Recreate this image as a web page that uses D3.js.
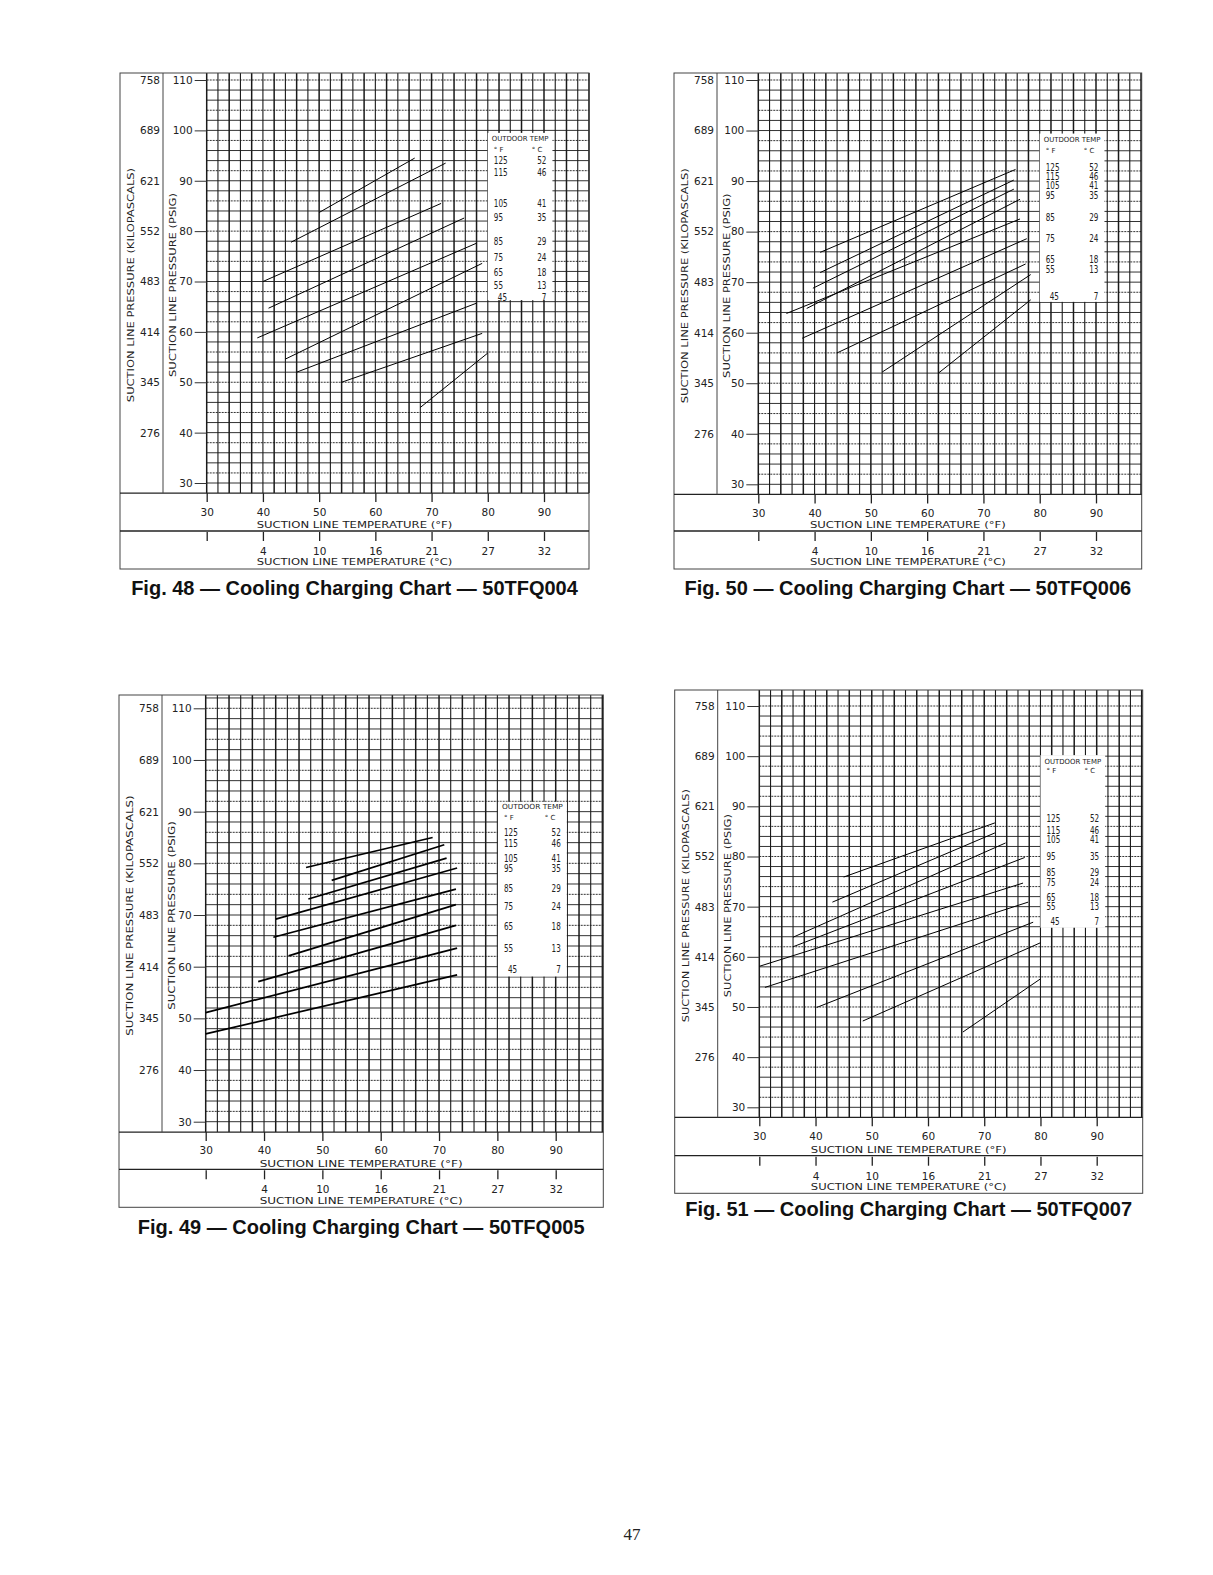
<!DOCTYPE html>
<html lang="en">
<head>
<meta charset="UTF-8">
<title>Cooling Charging Charts</title>
<style>
    html, body { margin: 0; padding: 0; background: #fff; }
    svg { display: block; }
    .plot-font { font-family: "DejaVu Sans", "Liberation Sans", sans-serif; fill: #222; }
</style>
</head>
<body>
<svg id="svg" width="1213" height="1575"></svg>

<script src="https://d3js.org/d3.v7.min.js"></script>
<script>
// ---- data ----
const tempTicksF = [30, 40, 50, 60, 70, 80, 90]
const tempLabelsC = ['', '4', '10', '16', '21', '27', '32']
const pressureTicksPsig = [30, 40, 50, 60, 70, 80, 90, 100, 110]
const pressureLabelsKpa = ['', '276', '345', '414', '483', '552', '621', '689', '758']
const outdoorTempF = [125, 115, 105, 95, 85, 75, 65, 55, 45]
const outdoorTempC = [52, 46, 41, 35, 29, 24, 18, 13, 7]

// one line per outdoor temp: [start °F, start psig, end °F, end psig]
const fig48Lines = [
    [50, 83.7, 67, 94.5],
    [45, 77.8, 72.5, 93.5],
    [40, 70, 71.7, 85.5],
    [41, 64.7, 75.8, 82.6],
    [39, 58.8, 78, 77.6],
    [44, 54.6, 79, 73.6],
    [46, 52, 78, 65.7],
    [54, 50, 79, 59.7],
    [68, 45, 80, 55.8]
]
const fig49Lines = [
    [47.2, 79.2, 68.9, 85],
    [51.6, 76.7, 70.9, 83.6],
    [47.6, 73.1, 71.3, 81],
    [42, 69.2, 73.1, 79.1],
    [41.6, 65.7, 72.9, 75],
    [44.2, 62.1, 72.9, 72],
    [39, 57.1, 72.9, 68],
    [30, 51.1, 73.1, 63.6],
    [30, 47, 73.1, 58.4]
]
const fig50Lines = [
    [41, 75.9, 75.7, 92.3],
    [41, 71.9, 75.4, 90.2],
    [39.7, 68.8, 75.4, 88.4],
    [38.6, 64.8, 76.5, 86.4],
    [35, 63.8, 76.5, 82.5],
    [37.8, 58.9, 77.7, 78.6],
    [44, 56, 77.5, 73.6],
    [52, 52.2, 78.4, 71.5],
    [62, 52, 78.4, 66.5]
]
const fig51Lines = [
    [45, 75.9, 71.9, 86.7],
    [43, 70.9, 71.9, 84.7],
    [36, 63.9, 73.8, 82.7],
    [36, 62, 77.2, 79.8],
    [30, 58.1, 76.9, 74.7],
    [31, 53.9, 77.8, 70.9],
    [40.2, 49.9, 78.7, 66.9],
    [48.4, 47.2, 80, 62.8],
    [66.2, 45, 80, 55.6]
]

// ---- page layout (pixels) ----
const charts = [
    {
        fig: 48, model: '50TFQ004', lines: fig48Lines, lineWidth: 1,
        left: 120, top: 73, right: 589, fBox: 531, bottom: 569, captionY: 595,
        x30: 206.7, x90: 544, y30: 483, y110: 80,
        legend: { x0: 80, x1: 91.5, y0: 66.3, y1: 99.5, head: [98.4, 96.1],
                  rows: [94.1, 91.7, 85.6, 82.7, 77.9, 74.7, 71.9, 69.3, 66.9] }
    },
    {
        fig: 50, model: '50TFQ006', lines: fig50Lines, lineWidth: 1,
        left: 674, top: 73, right: 1141.7, fBox: 531, bottom: 569, captionY: 595,
        x30: 758.3, x90: 1096, y30: 484.3, y110: 80,
        legend: { x0: 80, x1: 91.5, y0: 66.1, y1: 99.4, head: [98.3, 96.1],
                  rows: [92.8, 91.0, 89.2, 87.2, 82.9, 78.7, 74.6, 72.5, 67.1] }
    },
    {
        fig: 49, model: '50TFQ005', lines: fig49Lines, lineWidth: 1.7,
        left: 119, top: 695, right: 603.3, fBox: 1169.3, bottom: 1207.3, captionY: 1234,
        x30: 205.7, x90: 555.7, y30: 1121.7, y110: 708.3,
        legend: { x0: 80.1, x1: 91.9, y0: 58.1, y1: 91.9, head: [91.0, 88.8],
                  rows: [85.9, 83.8, 81.0, 79.1, 75.2, 71.6, 67.8, 63.6, 59.5] }
    },
    {
        fig: 51, model: '50TFQ007', lines: fig51Lines, lineWidth: 1,
        left: 674.7, top: 690, right: 1142.7, fBox: 1155.7, bottom: 1193.3, captionY: 1216,
        x30: 759.3, x90: 1096.7, y30: 1107.3, y110: 706,
        legend: { x0: 80, x1: 91.5, y0: 65.8, y1: 100.2, head: [98.9, 97.1],
                  rows: [87.6, 85.2, 83.4, 80.1, 76.9, 74.9, 71.8, 70.1, 67.1] }
    }
]

const svg = d3.select('#svg')
svg.append('rect').attr('width', 1213).attr('height', 1575).attr('fill', '#fff')

charts.forEach(c => drawChart(c))

function drawChart(c) {
    const x = d3.scaleLinear().domain([30, 90]).range([c.x30, c.x90])
    const y = d3.scaleLinear().domain([30, 110]).range([c.y30, c.y110])
    const xMax = x.invert(c.right)
    const yMax = y.invert(c.top)
    const plotBottom = y(28)
    const divider = c.left + 43
    const g = svg.append('g').attr('class', 'plot-font')

    // grid
    const grid = g.append('g')
    grid.selectAll('line.h')
        .data(d3.range(30, yMax, 2))
        .enter()
        .append('line')
        .attr('x1', x(30)).attr('x2', c.right)
        .attr('y1', d => y(d)).attr('y2', d => y(d))
        .attr('stroke', '#333')
        .attr('stroke-width', 1)
        .attr('stroke-dasharray', (d, i) => i % 3 === 1 ? '2 1' : null)
    grid.selectAll('line.v')
        .data(d3.range(30, xMax + 0.01, 2))
        .enter()
        .append('line')
        .attr('x1', d => x(d)).attr('x2', d => x(d))
        .attr('y1', c.top).attr('y2', plotBottom)
        .attr('stroke', '#1a1a1a')
        .attr('stroke-width', (d, i) => i % 2 === 0 ? 1.5 : 1.1)

    // frame and boxes
    const frame = g.append('g').attr('fill', 'none').attr('stroke', '#444').attr('stroke-width', 1)
    frame.append('rect')
        .attr('x', c.left).attr('y', c.top)
        .attr('width', c.right - c.left).attr('height', c.bottom - c.top)
    frame.append('line').attr('x1', c.left).attr('x2', c.right).attr('y1', plotBottom).attr('y2', plotBottom)
        .attr('stroke', '#222').attr('stroke-width', 1.3)
    frame.append('line').attr('x1', c.left).attr('x2', c.right).attr('y1', c.fBox).attr('y2', c.fBox)
        .attr('stroke', '#222').attr('stroke-width', 1.3)
    frame.append('line').attr('x1', divider).attr('x2', divider).attr('y1', c.top).attr('y2', plotBottom)

    // legend box
    const L = c.legend
    g.append('rect')
        .attr('x', x(L.x0)).attr('y', y(L.y1))
        .attr('width', x(L.x1) - x(L.x0)).attr('height', y(L.y0) - y(L.y1))
        .attr('fill', '#fff')
    const lx = x(L.x0), lw = x(L.x1) - x(L.x0)
    g.append('text')
        .attr('x', lx + 4).attr('y', y(L.head[0])).attr('dy', '0.35em')
        .attr('font-size', 7).attr('textLength', lw - 8).attr('lengthAdjust', 'spacingAndGlyphs')
        .text('OUTDOOR TEMP')
    g.append('text')
        .attr('x', lx + 6).attr('y', y(L.head[1])).attr('dy', '0.35em')
        .attr('font-size', 7).text('° F')
    g.append('text')
        .attr('x', lx + lw * 0.68).attr('y', y(L.head[1])).attr('dy', '0.35em')
        .attr('font-size', 7).text('° C')
    g.selectAll('text.lf')
        .data(outdoorTempF)
        .enter()
        .append('text')
        .attr('x', (d, i) => lx + (i === 8 ? 10 : 6))
        .attr('y', (d, i) => y(L.rows[i])).attr('dy', '0.36em')
        .attr('font-size', 10)
        .attr('textLength', d => String(d).length * 4.6).attr('lengthAdjust', 'spacingAndGlyphs')
        .text(d => d)
    g.selectAll('text.lc')
        .data(outdoorTempC)
        .enter()
        .append('text')
        .attr('x', d => lx + lw - 6 - String(d).length * 4.6)
        .attr('y', (d, i) => y(L.rows[i])).attr('dy', '0.36em')
        .attr('font-size', 10)
        .attr('textLength', d => String(d).length * 4.6).attr('lengthAdjust', 'spacingAndGlyphs')
        .text(d => d)

    // charging lines
    g.append('g')
        .selectAll('line')
        .data(c.lines)
        .enter()
        .append('line')
        .attr('x1', d => x(d[0])).attr('y1', d => y(d[1]))
        .attr('x2', d => x(d[2])).attr('y2', d => y(d[3]))
        .attr('stroke', '#000')
        .attr('stroke-width', c.lineWidth)

    // psig axis
    const psigAxis = d3.axisLeft(y).tickValues(pressureTicksPsig).tickSize(12).tickPadding(2)
    const pa = g.append('g').attr('transform', `translate(${x(30)},0)`).call(psigAxis)
    pa.select('.domain').remove()
    pa.selectAll('line').attr('stroke', '#333')
    pa.selectAll('text').attr('font-size', 10.5).attr('fill', '#222')
        .attr('font-family', '"DejaVu Sans", sans-serif')

    // kPa axis
    const kpaAxis = d3.axisLeft(y).tickValues(pressureTicksPsig).tickSize(0).tickPadding(3)
        .tickFormat((d, i) => pressureLabelsKpa[i])
    const ka = g.append('g').attr('transform', `translate(${divider},0)`).call(kpaAxis)
    ka.select('.domain').remove()
    ka.selectAll('text').attr('font-size', 10.5).attr('fill', '#222')
        .attr('font-family', '"DejaVu Sans", sans-serif')

    // °F axis
    const fBoxH = c.fBox - plotBottom
    const fAxis = d3.axisBottom(x).tickValues(tempTicksF).tickSize(9).tickPadding(fBoxH * 0.16)
    const fa = g.append('g').attr('transform', `translate(0,${plotBottom})`).call(fAxis)
    fa.select('.domain').remove()
    fa.selectAll('line').attr('stroke', '#222').attr('stroke-width', 1.3)
    fa.selectAll('text').attr('font-size', 10.5).attr('fill', '#222')
        .attr('font-family', '"DejaVu Sans", sans-serif')

    // °C axis (ticks sit on the °F positions)
    const cAxis = d3.axisBottom(x).tickValues(tempTicksF).tickSize(9).tickPadding(fBoxH * 0.18)
        .tickFormat((d, i) => tempLabelsC[i])
    const ca = g.append('g').attr('transform', `translate(0,${c.fBox + 1})`).call(cAxis)
    ca.select('.domain').remove()
    ca.selectAll('line').attr('stroke', '#222').attr('stroke-width', 1.3)
    ca.selectAll('text').attr('font-size', 10.5).attr('fill', '#222')
        .attr('font-family', '"DejaVu Sans", sans-serif')

    // axis titles
    const midX = (c.left + c.right) / 2
    const sx = (c.x90 - c.x30) / 60
    g.append('text')
        .attr('x', midX).attr('y', plotBottom + fBoxH * 0.93)
        .attr('text-anchor', 'middle').attr('font-size', 9)
        .attr('textLength', sx * 34.8).attr('lengthAdjust', 'spacingAndGlyphs')
        .text('SUCTION LINE TEMPERATURE (°F)')
    g.append('text')
        .attr('x', midX).attr('y', c.fBox + (c.bottom - c.fBox) * 0.9)
        .attr('text-anchor', 'middle').attr('font-size', 9)
        .attr('textLength', sx * 34.8).attr('lengthAdjust', 'spacingAndGlyphs')
        .text('SUCTION LINE TEMPERATURE (°C)')

    const midY = (c.top + plotBottom) / 2 + 2
    const sy = (c.y30 - c.y110) / 80
    g.append('text')
        .attr('transform', `translate(${c.left + 14},${midY}) rotate(-90)`)
        .attr('text-anchor', 'middle').attr('font-size', 9.5)
        .attr('textLength', sy * 46.5).attr('lengthAdjust', 'spacingAndGlyphs')
        .text('SUCTION LINE PRESSURE (KILOPASCALS)')
    g.append('text')
        .attr('transform', `translate(${c.left + 56},${midY}) rotate(-90)`)
        .attr('text-anchor', 'middle').attr('font-size', 9.5)
        .attr('textLength', sy * 36.5).attr('lengthAdjust', 'spacingAndGlyphs')
        .text('SUCTION LINE PRESSURE (PSIG)')

    // caption
    svg.append('text')
        .attr('x', midX).attr('y', c.captionY)
        .attr('text-anchor', 'middle')
        .attr('font-family', '"Liberation Sans", Arial, sans-serif')
        .attr('font-weight', 'bold').attr('font-size', 20).attr('fill', '#111')
        .text(`Fig. ${c.fig} — Cooling Charging Chart — ${c.model}`)
}

// page number
svg.append('text')
    .attr('x', 632).attr('y', 1540)
    .attr('text-anchor', 'middle')
    .attr('font-family', '"Liberation Serif", serif')
    .attr('font-size', 17).attr('fill', '#222')
    .text('47')
</script>
</body>
</html>
